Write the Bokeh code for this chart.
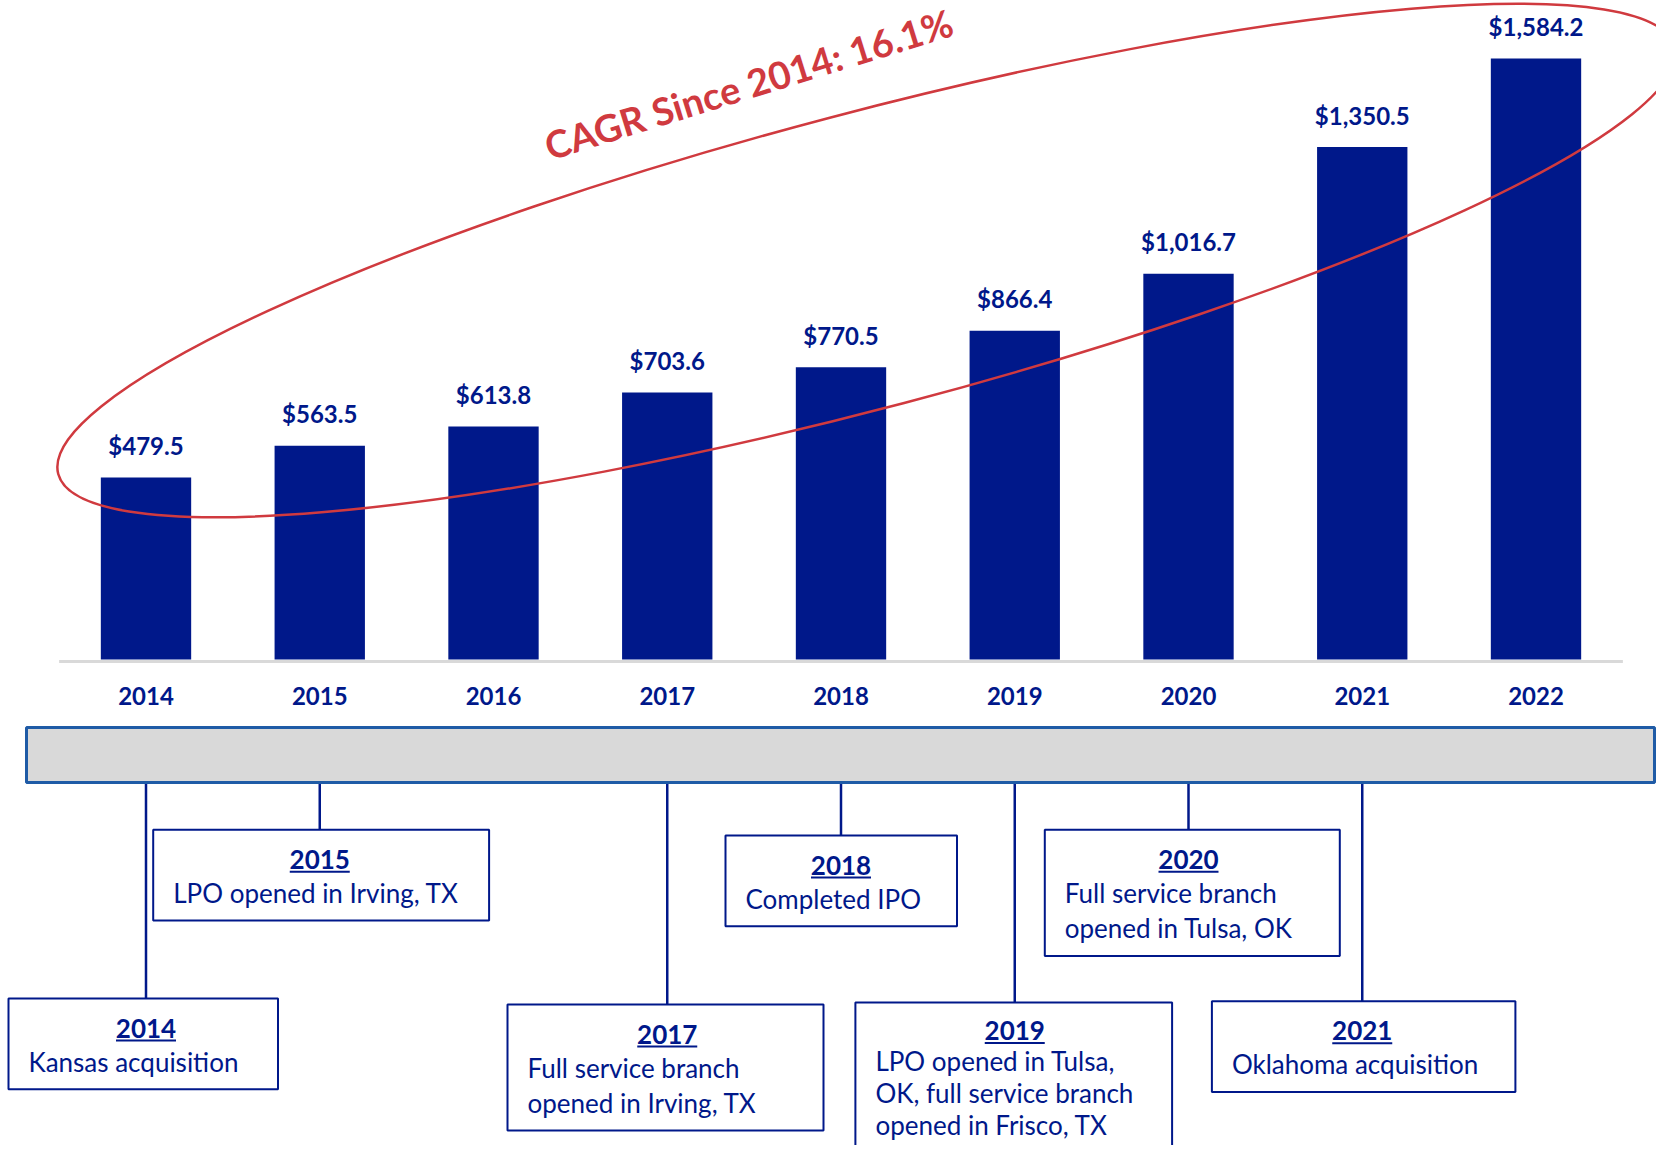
import numpy as np
from bokeh.plotting import figure
from bokeh.models import Range1d, ColumnDataSource
from bokeh.core.properties import value
from bokeh.embed import file_html
from bokeh.resources import INLINE

# ---------------- data ----------------
years = ["2014", "2015", "2016", "2017", "2018", "2019", "2020", "2021", "2022"]
loans = [479.5, 563.5, 613.8, 703.6, 770.5, 866.4, 1016.7, 1350.5, 1584.2]
cagr_label = "CAGR Since 2014: 16.1%"

event_years = ["2014", "2015", "2017", "2018", "2019", "2020", "2021"]
event_texts = [
    ["Kansas acquisition"],
    ["LPO opened in Irving, TX"],
    ["Full service branch", "opened in Irving, TX"],
    ["Completed IPO"],
    ["LPO opened in Tulsa,", "OK, full service branch", "opened in Frisco, TX"],
    ["Full service branch", "opened in Tulsa, OK"],
    ["Oklahoma acquisition"],
]

# ---------------- layout (picture pixels) ----------------
box_left = [8, 152.7, 507, 725, 854.9, 1044.3, 1211.4]
box_right = [277.5, 488.6, 823, 956.5, 1171.6, 1339.3, 1514.9]
box_top = [998, 829.3, 1004, 835, 1002, 829.3, 1000.7]
title_off = [29.5, 29.5, 29.5, 29.5, 28.0, 29.5, 29.5]
first_off = [63.2, 63.2, 63.2, 63.2, 58.5, 63.2, 63.2]
line_gap = [35.3, 35.3, 35.3, 35.3, 31.8, 35.3, 35.3]

NAVY = "#00188A"
RED = "#D03A3F"
GRAY = "#D9D9D9"
BLUE_BORDER = "#1F5BA6"
FONT = value("Lato")

W, H = 1656, 1145
PXU = 173.75            # pixels per category step
X0 = -145.5 / PXU
X1 = X0 + W / PXU
PPV = 0.3794            # pixels per $ unit
BASE = 659              # frame px of y=0
Y1 = BASE / PPV
Y0 = -(H - BASE) / PPV

p = figure(width=W, height=H, x_range=Range1d(X0, X1), y_range=Range1d(Y0, Y1),
           output_backend="svg", toolbar_location=None, min_border=0,
           x_axis_type=None, y_axis_type=None)
p.grid.visible = False
p.outline_line_color = None
p.background_fill_color = "white"
p.border_fill_color = "white"
p.extra_x_ranges = {"px": Range1d(0, W)}
p.extra_y_ranges = {"tl": Range1d(H, 0)}

idx = list(range(len(years)))

# baseline
p.segment(x0=[-0.5], x1=[len(years) - 0.5], y0=[661], y1=[661], y_range_name="tl",
          line_color=GRAY, line_width=3)

# bars
src = ColumnDataSource(dict(x=idx, top=loans, year=years,
                            lab=[f"${v:,.1f}" for v in loans]))
p.vbar(x="x", top="top", bottom=0, width=0.52, source=src, fill_color=NAVY, line_color=None)
p.text(x="x", y="top", text="lab", source=src, y_offset=-32, text_align="center",
       text_baseline="middle", text_font=FONT, text_font_style="bold",
       text_font_size=value("24px"), text_color=NAVY)
p.text(x="x", y=0, text="year", source=src, y_offset=36, text_align="center",
       text_baseline="middle", text_font=FONT, text_font_style="bold",
       text_font_size=value("24px"), text_color=NAVY)

# ellipse + CAGR label
p.ellipse(x=[866], y=[260], width=1672, height=295, angle=np.radians(14.8),
          width_units="screen", height_units="screen", x_range_name="px", y_range_name="tl",
          fill_color=None, line_color=RED, line_width=2.5)
p.text(x=[748], y=[83], text=[cagr_label], angle=np.radians(17.2), x_range_name="px",
       y_range_name="tl", text_align="center", text_baseline="middle", text_font=FONT,
       text_font_style="bold", text_font_size=value("38px"), text_color=RED)

# timeline bar
p.quad(left=[26], right=[1654], top=[727], bottom=[782], x_range_name="px", y_range_name="tl",
       fill_color=GRAY, line_color=BLUE_BORDER, line_width=3)

# events
ev_x = [years.index(y) for y in event_years]
box_bottom = [t + 55.5 + g * len(lines) for t, g, lines in zip(box_top, line_gap, event_texts)]
p.segment(x0=ev_x, x1=ev_x, y0=[783.5] * len(ev_x), y1=box_top, y_range_name="tl",
          line_color=NAVY, line_width=2.5)
p.quad(left=box_left, right=box_right, top=box_top, bottom=box_bottom,
       x_range_name="px", y_range_name="tl", fill_color="white", line_color=NAVY, line_width=2)

p.text(x=ev_x, y=[t + o for t, o in zip(box_top, title_off)], text=event_years,
       y_range_name="tl", text_align="center", text_baseline="middle", text_font=FONT,
       text_font_style="bold", text_font_size=value("26px"), text_color=NAVY)
half_u = 30 / PXU
ul_y = [t + o + 12.5 for t, o in zip(box_top, title_off)]
p.segment(x0=[x - half_u for x in ev_x], x1=[x + half_u for x in ev_x],
          y0=ul_y, y1=ul_y, y_range_name="tl", line_color=NAVY, line_width=2)

lx, ly, lt = [], [], []
for left, top, fo, g, lines in zip(box_left, box_top, first_off, line_gap, event_texts):
    for k, line in enumerate(lines):
        lx.append(left + 20)
        ly.append(top + fo + g * k)
        lt.append(line)
p.text(x=lx, y=ly, text=lt, x_range_name="px", y_range_name="tl", text_align="left",
       text_baseline="middle", text_font=FONT, text_font_size=value("26px"),
       text_color=NAVY)

open("out.html", "w").write(file_html(p, INLINE))
